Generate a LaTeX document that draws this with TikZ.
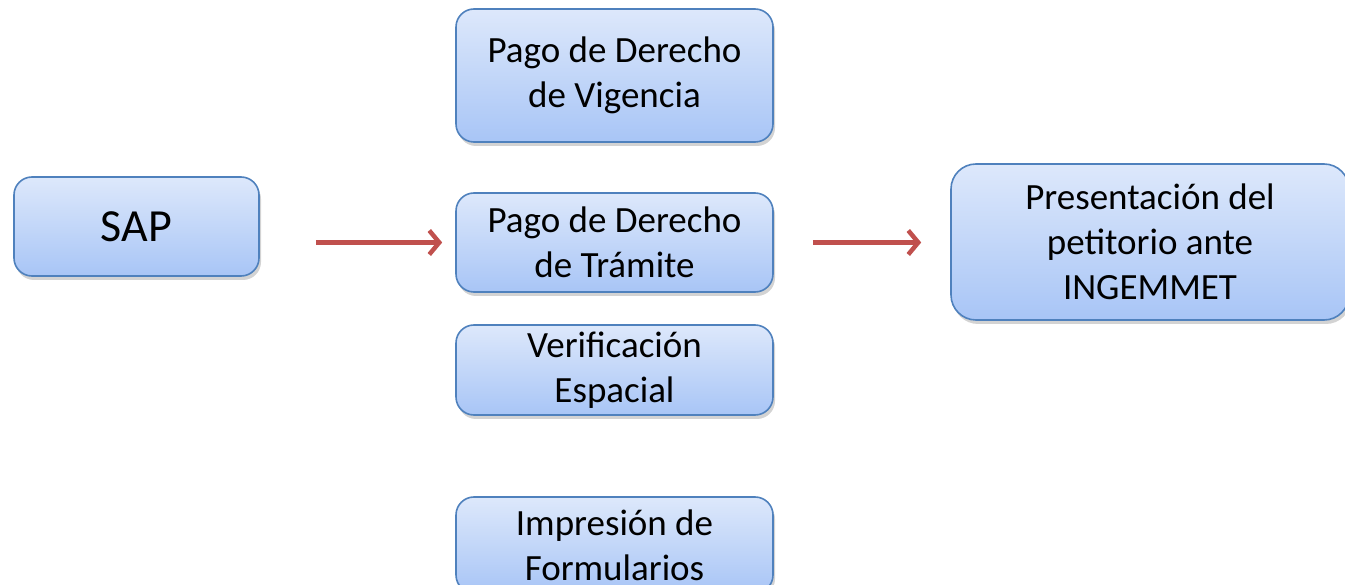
\documentclass[tikz,border=0pt]{standalone}
\usepackage{fontspec}
\setmainfont{Carlito}
\usetikzlibrary{shadows,arrows.meta}
\definecolor{boxtop}{HTML}{DDE8FB}
\definecolor{boxbot}{HTML}{A8C5F6}
\definecolor{boxline}{HTML}{4F81BD}
\definecolor{arrowred}{HTML}{C0504D}
\tikzset{
  box/.style={draw=boxline, line width=1.6pt, rounded corners=18pt,
    top color=boxtop, bottom color=boxbot, align=center,
    font=\fontsize{37}{45}\selectfont, inner sep=0pt,
    drop shadow={opacity=0.35, shadow xshift=2pt, shadow yshift=-4pt}},
  flow/.style={draw=arrowred, line width=4.5pt, -{Straight Barb[length=10pt,width=24pt,line width=4.5pt]}}
}
\begin{document}
\begin{tikzpicture}[x=1pt,y=-1pt]
\useasboundingbox (0,0) rectangle (1345,585);
\node[box, minimum width=245pt, minimum height=99pt, font=\fontsize{46}{54}\selectfont] (sap) at (136.5,226.5) {SAP};
\node[box, minimum width=317pt, minimum height=133pt] (vig) at (614.5,75.5) {Pago de Derecho\\de Vigencia};
\node[box, minimum width=317pt, minimum height=99pt] (tra) at (614.5,242.5) {Pago de Derecho\\de Trámite};
\node[box, minimum width=317pt, minimum height=90pt] (ver) at (614.5,370) {Verificación\\Espacial};
\node[box, minimum width=317pt, minimum height=96pt] (imp) at (614.5,545) {Impresión de\\Formularios};
\node[box, rounded corners=25pt, minimum width=398pt, minimum height=156pt] (pre) at (1150,242) {Presentación del\\petitorio ante\\INGEMMET};
\draw[flow, shorten <=56pt, shorten >=13pt] (sap.east |- tra.west) -- (tra.west);
\draw[flow, shorten <=39pt, shorten >=29pt] (tra.east) -- (pre.west |- tra.east);
\end{tikzpicture}
\end{document}
